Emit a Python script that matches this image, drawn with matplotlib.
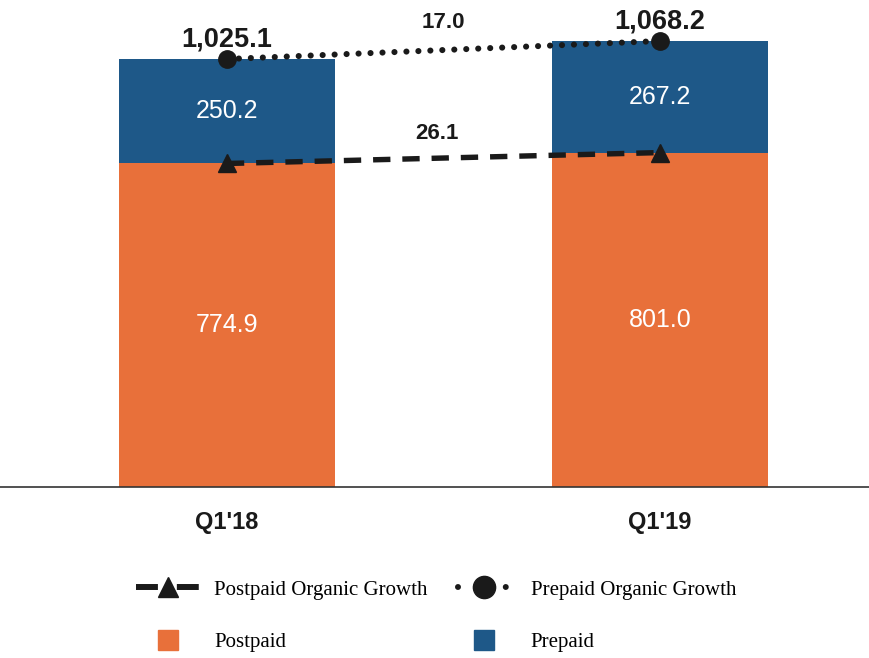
import numpy as np
import matplotlib
matplotlib.use("Agg")
import matplotlib.pyplot as plt
from matplotlib.lines import Line2D

# data
quarters = ["Q1'18", "Q1'19"]
postpaid = [774.9, 801.0]
prepaid = [250.2, 267.2]
totals = [1025.1, 1068.2]
postpaid_growth = 26.1
prepaid_growth = 17.0

ORANGE = "#E8703A"
BLUE = "#1E5888"
DARK = "#1a1a1a"

plt.rcParams['font.family'] = ['Liberation Sans', 'DejaVu Sans']

fig = plt.figure(figsize=(8.69, 6.58), dpi=100)
ax = fig.add_axes([0, 1 - 487 / 658, 1, 487 / 658])

x = np.arange(len(quarters))
w = 0.5
ax.bar(x, postpaid, width=w, color=ORANGE)
ax.bar(x, prepaid, width=w, bottom=postpaid, color=BLUE)

# segment labels
for xi, p, q in zip(x, postpaid, prepaid):
    ax.text(xi, p / 2, f"{p:.1f}", ha="center", va="center", color="white", fontsize=18)
    ax.text(xi, p + q / 2, f"{q:.1f}", ha="center", va="center", color="white", fontsize=18)

# growth lines
ax.plot(x, totals, color=DARK, linestyle=(0, (0.01, 1.95)), dash_capstyle="round",
        lw=4.4, marker="o", markersize=12.5)
ax.plot(x, postpaid, color=DARK, linestyle=(0, (3.2, 2.2)), lw=3.9,
        marker="^", markersize=13)

for xi, t in zip(x, totals):
    ax.annotate(f"{t:,.1f}", (xi, t), xytext=(0, 14), textcoords="offset points",
                ha="center", va="center", fontsize=19.5, fontweight="bold", color=DARK)

ax.annotate(f"{prepaid_growth:.1f}", (x.mean(), np.mean(totals)), xytext=(0, 20),
            textcoords="offset points", ha="center", va="center",
            fontsize=16, fontweight="bold", color=DARK)
ax.annotate(f"{postpaid_growth:.1f}", (x.mean() - 0.015, np.mean(postpaid)), xytext=(0, 18),
            textcoords="offset points", ha="center", va="center",
            fontsize=16, fontweight="bold", color=DARK)

ax.set_xlim(-0.524, 1.483)
ax.set_ylim(0, 1166.5)
ax.set_xticks(x)
ax.set_xticklabels(quarters, fontsize=17, fontweight="bold", color=DARK)
ax.tick_params(axis="x", length=0, pad=17)
ax.set_yticks([])
for s in ["left", "right", "top"]:
    ax.spines[s].set_visible(False)
ax.spines["bottom"].set_color("#333333")
ax.spines["bottom"].set_linewidth(1.2)

handles = [
    Line2D([], [], color=DARK, linestyle=(0, (3.67, 3.17)), lw=4.3, marker="^", markersize=14),
    Line2D([], [], color=ORANGE, marker="s", linestyle="none", markersize=15),
    Line2D([], [], color=DARK, linestyle=(3.17, (0.01, 3.99)), dash_capstyle="round", lw=4.3,
           marker="o", markersize=16),
    Line2D([], [], color=BLUE, marker="s", linestyle="none", markersize=15),
]
labels = ["Postpaid Organic Growth", "Postpaid", "Prepaid Organic Growth", "Prepaid"]
fig.legend(handles, labels, ncol=2, loc="upper left", bbox_to_anchor=(136 / 869, 1 - 580 / 658),
           frameon=False, borderpad=0, borderaxespad=0, handlelength=3.03, handletextpad=0.72,
           columnspacing=1.2, labelspacing=1.6, numpoints=1,
           prop={"family": ["Liberation Serif", "DejaVu Serif"], "size": 15})

fig.savefig("out.png", dpi=100, facecolor="white")
